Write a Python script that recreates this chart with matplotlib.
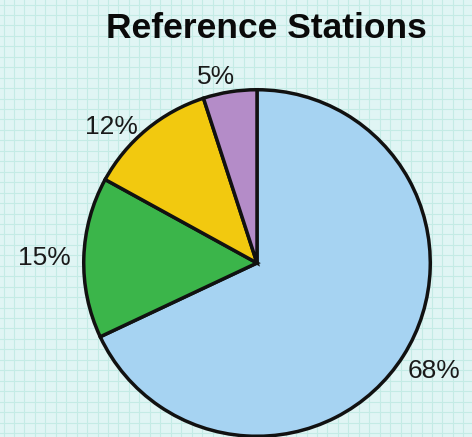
import matplotlib.pyplot as plt
import numpy as np

# chart data
labels = ['Station A', 'Station B', 'Station C', 'Station D']
shares = [68, 15, 12, 5]
colors = ['#a6d3f2', '#3bb54a', '#f2c90f', '#b48cc8']
title = 'Reference Stations'

W, H = 472, 437
fig = plt.figure(figsize=(W / 100, H / 100), dpi=100)
fig.patch.set_facecolor('#e0f5f4')

# graph-paper background
bg = fig.add_axes([0, 0, 1, 1])
bg.set_xlim(0, W)
bg.set_ylim(H, 0)
bg.set_facecolor('#e0f5f4')
bg.axis('off')
step = 10.45
for x in np.arange(3.5, W, step):
    bg.axvline(x, color='#c4ebe5', lw=0.8, zorder=0)
for y in np.arange(4.5, H, step):
    bg.axhline(y, color='#c4ebe5', lw=0.8, zorder=0)

# pie
cx, cy, r = 257, 263, 175
ax = fig.add_axes([(cx - r) / W, (H - cy - r) / H, 2 * r / W, 2 * r / H])
wedges, texts, autotexts = ax.pie(
    shares, colors=colors, startangle=90, counterclock=False,
    autopct='%d%%', pctdistance=1.19,
    wedgeprops=dict(edgecolor='#111111', linewidth=2.5),
    textprops=dict(fontsize=19, family='Liberation Sans', color='#1a1a1a'))

# label placement: distance from centre and angular nudge per label
label_dist = [1.2, 1.23, 1.15, 1.1]
label_nudge = [1.0, 0.5, 7.2, 3.3]
for w, t, d, n in zip(wedges, autotexts, label_dist, label_nudge):
    a = np.deg2rad((w.theta1 + w.theta2) / 2 + n)
    t.set_position((d * np.cos(a), d * np.sin(a)))

ax.set_xlim(-1.01, 1.01)
ax.set_ylim(-1.01, 1.01)
ax.set_aspect('equal')
ax.axis('off')

fig.text(266 / W, 1 - 28 / H, title, ha='center', va='center',
         fontsize=25.5, fontweight='bold', family='Liberation Sans', color='#0a0a0a')

plt.savefig('out.png', dpi=100, facecolor=fig.get_facecolor())
